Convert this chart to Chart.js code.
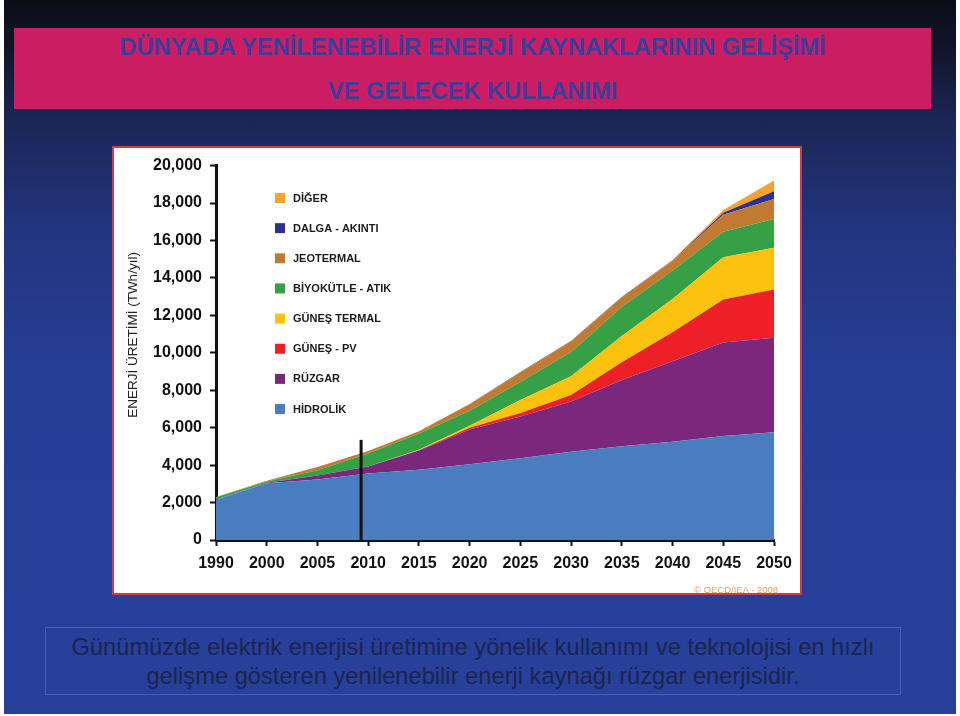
<!DOCTYPE html>
<html>
<head>
<meta charset="utf-8">
<script src="https://cdn.jsdelivr.net/npm/chart.js"></script>
<style>
  html, body { margin: 0; padding: 0; background: #ffffff; }
  body { width: 960px; height: 716px; position: relative; overflow: hidden; font-family: "Liberation Sans", Arial, sans-serif; }
  .slide {
    position: absolute; left: 4px; top: 0; width: 952px; height: 714px;
    background: linear-gradient(180deg, #0b0d16 0px, #10152a 50px, #1b2554 115px, #22357f 230px, #263f95 380px, #27409a 716px);
  }
  .header {
    position: absolute; left: 14px; top: 28px; width: 917px; height: 81px;
    background: #cc1c62; color: #3a3f9c; font-weight: bold; font-size: 23.7px; text-align: center;
  }
  .header div { position: absolute; left: 0; right: 0; line-height: 26px; }
  .box {
    position: absolute; left: 112px; top: 146px; width: 686px; height: 445px;
    background: #ffffff; border: 2px solid #d2394d;
  }
  #chart { position: absolute; left: 0; top: 0; }
  .copy { position: absolute; left: 580px; top: 436px; font-size: 9.5px; color: #e2a15c; }
  .note {
    position: absolute; left: 45px; top: 627px; width: 856px; height: 68px;
    border: 1px solid #4760b6; color: #1c2450; font-size: 23.7px; text-align: center; line-height: 29px;
    padding-top: 5px; box-sizing: border-box;
  }
</style>
</head>
<body>
<div class="slide"></div>
<div class="header">
  <div style="top:6px">DÜNYADA YENİLENEBİLİR ENERJİ KAYNAKLARININ GELİŞİMİ</div>
  <div style="top:50px">VE GELECEK KULLANIMI</div>
</div>
<div class="box">
  <canvas id="chart" width="686" height="445"></canvas>
  <div class="copy">© OECD/IEA - 2008</div>
</div>
<div class="note">Günümüzde elektrik enerjisi üretimine yönelik kullanımı ve teknolojisi en hızlı<br>gelişme gösteren yenilenebilir enerji kaynağı rüzgar enerjisidir.</div>
<script>
const years = ['1990', '2000', '2005', '2010', '2015', '2020', '2025', '2030', '2035', '2040', '2045', '2050'];
const yTicks = [0, 2000, 4000, 6000, 8000, 10000, 12000, 14000, 16000, 18000, 20000];

// TWh/yıl, stacked from the bottom up
const hidrolik   = [2150, 3030, 3230, 3550, 3750, 4050, 4370, 4720, 5010, 5250, 5550, 5750];
const ruzgar     = [10, 30, 220, 370, 1030, 1850, 2230, 2680, 3540, 4300, 5000, 5050];
const gunesPv    = [0, 0, 0, 0, 20, 100, 180, 350, 950, 1550, 2300, 2580];
const gunesTerm  = [0, 0, 0, 0, 20, 100, 700, 1000, 1400, 1780, 2250, 2230];
const biyokutle  = [120, 70, 280, 700, 870, 800, 960, 1290, 1540, 1520, 1360, 1540];
const jeotermal  = [20, 30, 170, 130, 120, 350, 510, 560, 510, 500, 920, 1070];
const dalga      = [0, 0, 0, 0, 0, 10, 20, 30, 30, 30, 100, 410];
const diger      = [0, 0, 0, 0, 0, 0, 0, 10, 20, 30, 150, 570];

const yTitle = 'ENERJİ ÜRETİMİ (TWh/yıl)';

// today marker (between 2005 and 2010)
const markerPos = 2.86;
const markerTop = 5350;

function area(label, data, color, first) {
  return {
    label: label, data: data, backgroundColor: color, borderColor: color,
    borderWidth: 0, pointRadius: 0, tension: 0, fill: first ? 'origin' : '-1'
  };
}

const extras = {
  id: 'extras',
  afterDatasetsDraw(chart) {
    const ctx = chart.ctx;
    const ds = chart.data.datasets;
    ctx.save();
    // legend, top item = last dataset
    ctx.font = 'bold 11px "Liberation Sans", Arial, sans-serif';
    ctx.textBaseline = 'middle';
    for (let i = 0; i < ds.length; i++) {
      const item = ds[ds.length - 1 - i];
      const y = 50 + i * 30.15;
      ctx.fillStyle = item.backgroundColor;
      ctx.fillRect(161, y - 5, 10, 10);
      ctx.fillStyle = '#1a1a1a';
      ctx.fillText(item.label, 179, y + 0.5);
    }
    // y title
    ctx.font = '13.5px "Liberation Sans", Arial, sans-serif';
    ctx.fillStyle = '#222';
    ctx.textAlign = 'center';
    ctx.translate(19, 187);
    ctx.rotate(-Math.PI / 2);
    ctx.fillText(yTitle, 0, 0);
    ctx.setTransform(1, 0, 0, 1, 0, 0);
    // vertical marker line
    const xs = chart.scales.x, ys = chart.scales.y;
    const a = xs.getPixelForValue(Math.floor(markerPos));
    const b = xs.getPixelForValue(Math.ceil(markerPos));
    const x = a + (b - a) * (markerPos % 1);
    ctx.strokeStyle = '#111';
    ctx.lineWidth = 3;
    ctx.beginPath();
    ctx.moveTo(x, ys.getPixelForValue(0));
    ctx.lineTo(x, ys.getPixelForValue(markerTop));
    ctx.stroke();
    ctx.restore();
  }
};

const tickFont = { family: '"Liberation Sans", Arial', size: 16, weight: 'bold' };

new Chart(document.getElementById('chart').getContext('2d'), {
  type: 'line',
  data: {
    labels: years,
    datasets: [
      area('HİDROLİK', hidrolik, '#4a7dbf', true),
      area('RÜZGAR', ruzgar, '#7b287c'),
      area('GÜNEŞ - PV', gunesPv, '#ec2026'),
      area('GÜNEŞ TERMAL', gunesTerm, '#fdc20f'),
      area('BİYOKÜTLE - ATIK', biyokutle, '#36a046'),
      area('JEOTERMAL', jeotermal, '#c07a31'),
      area('DALGA - AKINTI', dalga, '#2b3190'),
      area('DİĞER', diger, '#f6a233')
    ]
  },
  options: {
    responsive: false,
    animation: false,
    layout: { padding: { top: 17, right: 26, bottom: 0, left: 0 } },
    plugins: { legend: { display: false }, tooltip: { enabled: false } },
    scales: {
      x: {
        offset: false,
        grid: { display: true, drawOnChartArea: false, tickLength: 6, tickWidth: 2, tickColor: '#111' },
        border: { display: true, color: '#111', width: 3 },
        ticks: { color: '#111', padding: 8, maxRotation: 0, font: tickFont },
        afterFit(scale) { scale.height = 53; }
      },
      y: {
        stacked: true,
        min: 0, max: 20000,
        afterBuildTicks(scale) { scale.ticks = yTicks.map(v => ({ value: v })); },
        grid: { display: true, drawOnChartArea: false, tickLength: 6, tickWidth: 2, tickColor: '#111' },
        border: { display: true, color: '#111', width: 3 },
        ticks: {
          color: '#111', padding: 8, font: tickFont,
          callback: v => v.toLocaleString('en-US')
        },
        afterFit(scale) { scale.width = 102; }
      }
    }
  },
  plugins: [extras]
});
</script>
</body>
</html>
